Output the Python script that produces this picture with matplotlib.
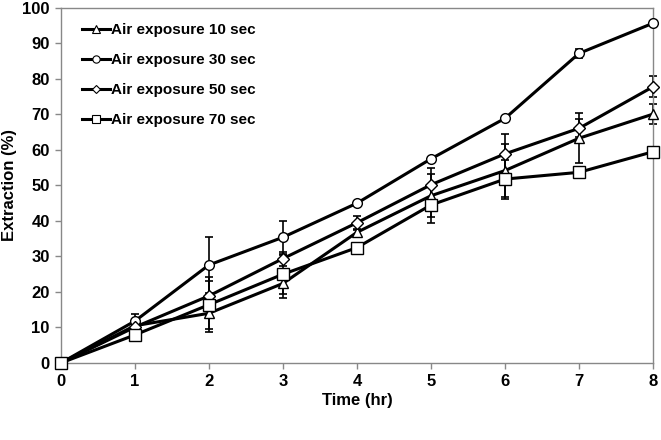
import numpy as np
import matplotlib.pyplot as plt
from matplotlib.lines import Line2D

plt.rcParams['font.family'] = ['Liberation Sans', 'DejaVu Sans']
plt.rcParams['font.weight'] = 'bold'

# Data
time_hr = [0, 1, 2, 3, 4, 5, 6, 7, 8]

exp_10 = [0, 10.5, 14.0, 22.4, 36.8, 47.1, 54.2, 63.3, 70.1]
exp_30 = [0, 11.8, 27.6, 35.4, 45.0, 57.5, 68.9, 87.2, 95.7]
exp_50 = [0, 10.1, 18.9, 29.4, 39.5, 50.2, 58.9, 66.1, 77.8]
exp_70 = [0, 7.9, 16.4, 25.0, 32.5, 44.5, 51.8, 53.7, 59.5]

err_10 = [0, 1.0, 5.2, 4.2, 1.0, 6.0, 7.5, 7.0, 2.8]
err_30 = [0, 2.0, 7.9, 4.7, 0.5, 0.5, 0.5, 1.2, 0.5]
err_50 = [0, 1.0, 5.3, 2.0, 2.0, 4.8, 5.6, 2.5, 2.9]
err_70 = [0, 1.8, 6.8, 5.5, 1.0, 5.2, 5.5, 0.5, 0.5]

labels = ['Air exposure 10 sec', 'Air exposure 30 sec',
          'Air exposure 50 sec', 'Air exposure 70 sec']
markers = ['^', 'o', 'D', 's']
sizes = [7, 7, 6, 8]

fig = plt.figure(figsize=(6.61, 4.40), dpi=100)
ax = fig.add_axes([0.092, 0.175, 0.896, 0.807])

series = [exp_10, exp_30, exp_50, exp_70]
errors = [err_10, err_30, err_50, err_70]
handles = []
for vals, errs, lab, mk, ms in zip(series, errors, labels, markers, sizes):
    ax.errorbar(time_hr, vals, yerr=errs, fmt='none', ecolor='black',
                elinewidth=1.2, capsize=3, capthick=1.2, clip_on=False)
    ax.plot(time_hr, vals, color='black', lw=2.2, marker=mk, ms=ms,
            mfc='white', mec='black', mew=1.0, clip_on=False, zorder=3)
    handles.append(Line2D([], [], color='black', lw=2.2, marker=mk,
                          ms=ms * 0.75, mfc='white', mec='black', mew=0.8,
                          label=lab))

ax.set_xlim(0, 8)
ax.set_ylim(0, 100)
ax.set_xticks(range(0, 9))
ax.set_yticks(range(0, 101, 10))
ax.tick_params(direction='out', length=4, width=1, color='#888888',
               labelsize=12, pad=4)
for sp in ax.spines.values():
    sp.set_color('#888888')
    sp.set_linewidth(1)

ax.set_xlabel('Time (hr)', fontsize=12, fontweight='bold', labelpad=3)
ax.set_ylabel('Extraction (%)', fontsize=12, fontweight='bold', labelpad=4)

ax.legend(handles=handles, loc='upper left', frameon=False, fontsize=11,
          handlelength=1.85, handletextpad=0.05, labelspacing=1.05,
          borderaxespad=0.0, bbox_to_anchor=(0.025, 0.975))

fig.savefig('out.png', dpi=100)
